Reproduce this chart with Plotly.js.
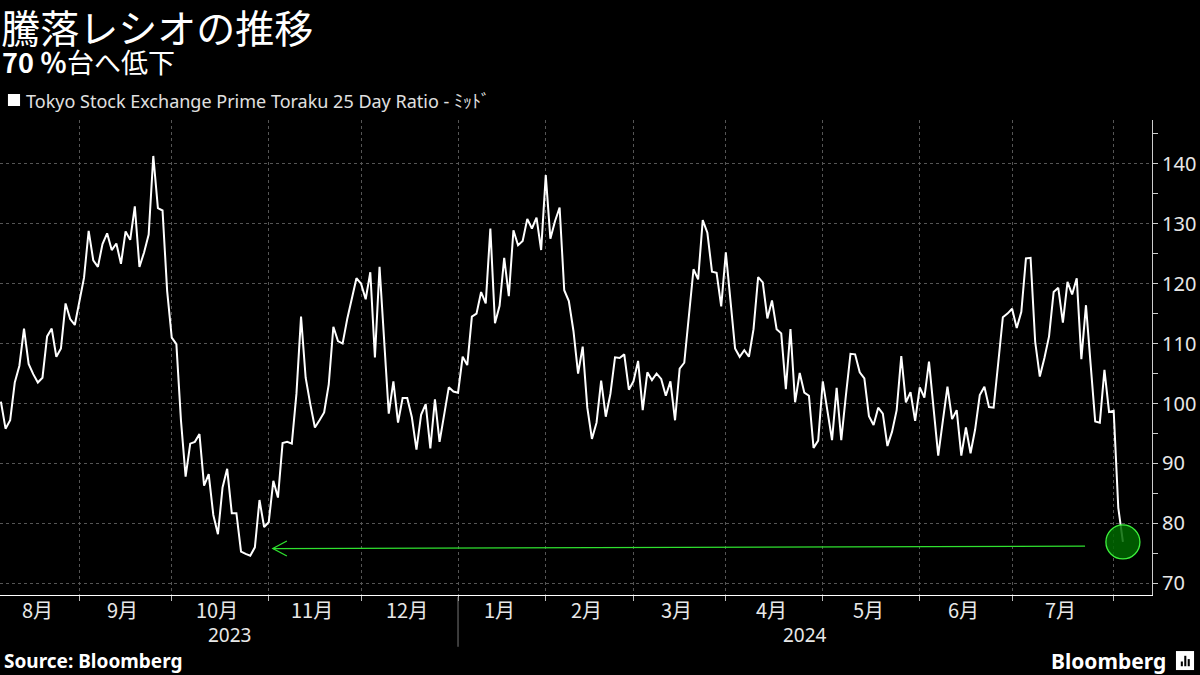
<!DOCTYPE html>
<html>
<head>
<meta charset="utf-8">
<script src="https://cdn.plot.ly/plotly-3.0.1.min.js"></script>
<style>
html,body{margin:0;padding:0;background:#000;}
#chart{width:1200px;height:675px;}
</style>
</head>
<body>
<div id="chart"></div>
<script>
// ---- Data: Tokyo Stock Exchange Prime Toraku 25 Day Ratio, one value per trading day ----
const aug2023 = [100.3,95.8,97.2,103.5,106.3,112.5,106.6,104.9,103.5,104.3,111.2,112.5,107.8,109.2,116.7,114.1,113.1];
const sep2023 = [117.1,121.0,128.8,123.9,122.8,126.6,128.4,125.6,126.7,123.3,128.7,127.3,132.9,122.8,125.2,128.2,141.3,132.6,132.2,118.8];
const oct2023 = [111.0,109.9,97.1,87.8,93.3,93.6,94.9,86.3,88.2,81.4,78.2,86.0,89.1,81.7,81.7,75.3,74.9,74.6,76.0,83.9,79.4];
const nov2023 = [80.2,87.1,84.3,93.4,93.6,93.3,101.6,114.5,104.3,99.9,96.0,97.2,98.5,103.2,112.8,110.4,110.0,114.1,117.4,120.9];
const dec2023 = [120.0,117.4,121.9,107.7,122.8,110.4,98.3,103.7,96.8,100.9,100.9,97.7,92.3,98.1,99.9,92.5,100.7,93.6,98.2,102.7,102.0];
const jan2024 = [101.8,107.8,106.4,114.5,115.0,118.6,116.7,129.2,113.4,116.3,124.3,117.9,128.9,126.4,127.1,130.8,129.2,131.0,125.6];
const feb2024 = [138.1,127.5,130.4,132.7,118.9,117.1,112.1,105.0,109.5,99.3,94.1,96.8,103.8,97.8,101.6,107.7,107.6,108.2,102.3];
const mar2024 = [103.7,107.1,98.9,105.2,103.9,105.0,104.1,101.3,103.7,97.2,105.8,106.8,114.3,122.4,120.7,130.6,128.5,122.0,121.8,116.2];
const apr2024 = [125.2,116.6,109.2,107.8,108.9,107.8,112.4,121.1,120.2,114.2,117.2,112.4,111.7,102.4,112.4,100.2,105.1,101.8,101.3,92.6,93.8];
const may2024 = [103.7,98.8,93.9,102.6,93.9,101.3,108.3,108.2,105.2,104.2,97.9,96.4,99.3,98.3,92.9,95.3,98.9,107.9,100.2,101.9,97.1];
const jun2024 = [102.7,101.0,107.0,99.1,91.3,97.1,102.8,97.4,98.9,91.3,96.0,91.7,95.7,101.4,102.8,99.4,99.3,106.8,114.4,115.0];
const jul2024 = [115.8,112.6,115.3,124.2,124.3,110.3,104.5,107.6,111.2,118.6,119.3,113.5,120.3,118.2,120.9,107.4,116.4,106.6,97.0,96.8,105.6,98.6];
const aug2024 = [98.8,82.6,76.9];

const monthSeries = [aug2023,sep2023,oct2023,nov2023,dec2023,jan2024,feb2024,mar2024,apr2024,may2024,jun2024,jul2024,aug2024];
const monthLabels = ['8月','9月','10月','11月','12月','1月','2月','3月','4月','5月','6月','7月',''];
const yearLabels = ['2023','2024'];
const yearStartMonth = [0,5]; // month index where each year starts in monthSeries

const titleText = '騰落レシオの推移';
const subtitleText = '<b>70 \uFF05</b>台へ低下';
const seriesName = 'Tokyo Stock Exchange Prime Toraku 25 Day Ratio - ﾐｯﾄﾞ';
const sourceText = '<b>Source: Bloomberg</b>';

// Annotation arrow: from recent level back to the October 2023 low
const arrowTipIdx = 58.9, arrowTipVal = 75.8;
const arrowEndIdx = 234.8, arrowEndVal = 76.2;

// ---- Build ----
const values = [].concat(...monthSeries);
const xs = values.map((v,i)=>i);
const starts = [];
let acc = 0;
monthSeries.forEach(m=>{starts.push(acc); acc += m.length;});
const boundaries = starts.slice(1);
const xMin = -0.2, xMax = 249.3;
const yMin = 68.05, yMax = 147.3;

const annotations = [];
monthLabels.forEach((lab,k)=>{
  if(!lab) return;
  const a = k===0 ? 0 : starts[k];
  const b = starts[k+1];
  annotations.push({x:(a+b)/2 - 0.6, xref:'x', y:-0.0295, yref:'paper', yanchor:'middle', xanchor:'center',
    text:lab, showarrow:false, font:{family:'Noto Sans CJK JP', size:20, color:'#e8e8e8'}});
});
yearLabels.forEach((lab,k)=>{
  const a = k===0 ? 0 : starts[yearStartMonth[k]];
  const b = k+1<yearLabels.length ? starts[yearStartMonth[k+1]] : xMax;
  annotations.push({x:(a+b)/2, xref:'x', y:-0.0842, yref:'paper', yanchor:'middle', xanchor:'center',
    text:lab, showarrow:false, font:{family:'Noto Sans', size:19, color:'#e8e8e8'}});
});
annotations.push({x:0.0, xref:'paper', xanchor:'left', y:1.124, yref:'paper', yanchor:'middle',
  text:subtitleText, showarrow:false, font:{family:'Noto Sans CJK JP', size:27, color:'#ffffff'}});
annotations.push({x:0.0205, xref:'paper', xanchor:'left', y:1.04, yref:'paper', yanchor:'middle',
  text:seriesName, showarrow:false, font:{family:'Noto Sans, Noto Sans CJK JP', size:18, color:'#e0e0e0'}});
annotations.push({x:0.002, xref:'paper', xanchor:'left', y:-0.139, yref:'paper', yanchor:'middle',
  text:sourceText, showarrow:false, font:{family:'Noto Sans', size:19, color:'#ffffff'}});
annotations.push({x:1.014, xref:'paper', xanchor:'right', y:-0.139, yref:'paper', yanchor:'middle',
  text:'<b>Bloomberg</b>', showarrow:false, font:{family:'Noto Sans', size:21, color:'#ffffff'}});

const lastIdx = values.length-1, lastVal = values[lastIdx];
const green = '#2fe02f';
const shapes = [
  // year separator
  {type:'line', xref:'x', yref:'paper', x0:starts[yearStartMonth[1]], x1:starts[yearStartMonth[1]], y0:-0.004, y1:-0.109,
   line:{color:'#777', width:1}},
  // legend square
  {type:'rect', xref:'paper', yref:'paper', x0:0.0069, x1:0.0174, y0:1.0295, y1:1.0547, fillcolor:'#ffffff', line:{width:0}},
  // arrow line
  {type:'line', xref:'x', yref:'y', x0:arrowTipIdx, y0:arrowTipVal, x1:arrowEndIdx, y1:arrowEndVal, line:{color:green, width:1.3}},
  // arrow head (open chevron)
  {type:'path', xref:'x', yref:'y', xsizemode:'pixel', ysizemode:'pixel', xanchor:arrowTipIdx, yanchor:arrowTipVal,
   path:'M 14 7.5 L 0 0 L 14 -7.5', line:{color:green, width:1.3}},
  // circle at last point
  {type:'circle', xref:'x', yref:'y', xsizemode:'pixel', ysizemode:'pixel', xanchor:lastIdx, yanchor:lastVal,
   x0:-17, x1:17, y0:-17, y1:17, fillcolor:'rgba(0,105,0,0.85)', line:{color:'#3cf03c', width:1.3}, layer:'above'},
  // Bloomberg icon
  {type:'rect', xref:'paper', yref:'paper', x0:1.0208, x1:1.0365, y0:-0.118, y1:-0.158, fillcolor:'#ffffff', line:{width:0}},
  {type:'rect', xref:'paper', yref:'paper', x0:1.0250, x1:1.0268, y0:-0.140, y1:-0.150, fillcolor:'#000', line:{width:0}},
  {type:'rect', xref:'paper', yref:'paper', x0:1.0280, x1:1.0298, y0:-0.128, y1:-0.150, fillcolor:'#000', line:{width:0}},
  {type:'rect', xref:'paper', yref:'paper', x0:1.0310, x1:1.0328, y0:-0.135, y1:-0.150, fillcolor:'#000', line:{width:0}}
];

const trace = {x:xs, y:values, type:'scatter', mode:'lines', name:seriesName,
  line:{color:'#ffffff', width:2}, hoverinfo:'skip'};

const layout = {
  width:1200, height:675,
  paper_bgcolor:'#000', plot_bgcolor:'#000',
  margin:{l:0, r:48, t:120, b:80, pad:0},
  showlegend:false,
  title:{text:titleText, x:0.001, xref:'container', xanchor:'left', y:0.977, yref:'container', yanchor:'top',
    font:{family:'Noto Sans CJK JP', size:39, color:'#ffffff'}},
  xaxis:{range:[xMin,xMax], tickvals:boundaries, showticklabels:false, ticks:'outside', ticklen:5, tickcolor:'#bbb',
    showgrid:true, gridcolor:'#555', griddash:'3px,3px', gridwidth:1,
    showline:true, linecolor:'#ffffff', linewidth:1, zeroline:false, fixedrange:true},
  yaxis:{range:[yMin,yMax], side:'right', tick0:0, dtick:10, ticks:'outside', ticklen:5, tickcolor:'#ccc',
    minor:{dtick:5, ticks:'outside', ticklen:5, tickcolor:'#ccc', showgrid:false},
    showgrid:true, gridcolor:'#555', griddash:'3px,3px', gridwidth:1,
    showline:true, linecolor:'#ccc', linewidth:1, zeroline:false,
    tickfont:{family:'Noto Sans', size:20, color:'#e8e8e8'}, fixedrange:true},
  annotations:annotations,
  shapes:shapes
};

Plotly.newPlot('chart', [trace], layout, {displayModeBar:false, staticPlot:true});
</script>
</body>
</html>
